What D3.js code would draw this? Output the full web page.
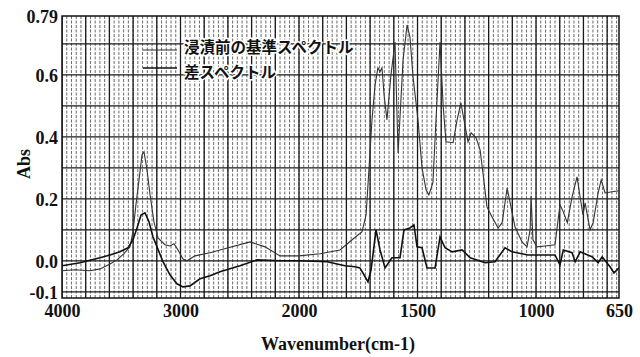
<!DOCTYPE html>
<html>
<head>
<meta charset="utf-8">
<script src="https://cdn.jsdelivr.net/npm/d3@7/dist/d3.min.js"></script>
<style>
  body { margin: 0; background: #fff; }
  svg { display: block; }
  .num { font-family: "Liberation Serif", "DejaVu Serif", serif; font-weight: bold; font-size: 18px; fill: #111; }
  .jp { font-family: "Noto Sans CJK JP", sans-serif; font-weight: bold; font-size: 15.5px; fill: #111; }
</style>
</head>
<body>
<svg id="chart" width="640" height="357"></svg>
<script>
// reference spectrum before immersion (wavenumber, Abs)
var refWavenumber = [4000, 3890, 3764, 3679, 3595, 3536, 3477, 3426, 3401, 3376, 3350, 3325, 3308, 3283, 3257, 3224, 3190, 3131, 3089, 3055, 3021, 2979, 2945, 2878, 2751, 2667, 2413, 2287, 2160, 2000, 1911, 1827, 1776, 1734, 1717, 1705, 1692, 1679, 1667, 1658, 1650, 1641, 1629, 1612, 1595, 1582, 1561, 1544, 1532, 1519, 1498, 1481, 1464, 1452, 1435, 1422, 1405, 1392, 1380, 1350, 1333, 1317, 1304, 1287, 1274, 1253, 1236, 1224, 1207, 1186, 1160, 1143, 1122, 1110, 1089, 1059, 1038, 1025, 1021, 1013, 996, 962, 920, 899, 885, 868, 848, 827, 814, 802, 793, 772, 759, 738, 725, 709, 679, 650];
var refAbs = [-0.032, -0.029, -0.032, -0.026, -0.010, 0.003, 0.023, 0.045, 0.094, 0.181, 0.261, 0.342, 0.352, 0.294, 0.213, 0.126, 0.074, 0.052, 0.048, 0.055, 0.035, 0.006, 0.0, 0.016, 0.026, 0.035, 0.061, 0.045, 0.016, 0.016, 0.023, 0.035, 0.068, 0.094, 0.148, 0.294, 0.455, 0.568, 0.623, 0.610, 0.623, 0.535, 0.455, 0.600, 0.706, 0.348, 0.648, 0.761, 0.723, 0.594, 0.455, 0.300, 0.229, 0.213, 0.252, 0.455, 0.706, 0.503, 0.384, 0.381, 0.455, 0.510, 0.455, 0.384, 0.413, 0.397, 0.358, 0.284, 0.174, 0.142, 0.106, 0.123, 0.235, 0.190, 0.110, 0.061, 0.045, 0.100, 0.210, 0.068, 0.045, 0.048, 0.052, 0.181, 0.158, 0.123, 0.206, 0.271, 0.206, 0.148, 0.187, 0.100, 0.123, 0.219, 0.261, 0.219, 0.223, 0.226];

// difference spectrum
var diffWavenumber = [4000, 3848, 3679, 3595, 3511, 3443, 3401, 3367, 3333, 3300, 3266, 3232, 3198, 3148, 3089, 3030, 2979, 2920, 2835, 2751, 2667, 2498, 2354, 2160, 2000, 1882, 1806, 1764, 1743, 1726, 1709, 1696, 1675, 1658, 1637, 1608, 1574, 1557, 1532, 1515, 1502, 1481, 1460, 1426, 1405, 1384, 1354, 1312, 1278, 1215, 1173, 1131, 1101, 1034, 920, 899, 885, 848, 835, 814, 764, 738, 721, 688, 671, 650];
var diffAbs = [-0.016, -0.006, 0.010, 0.019, 0.029, 0.042, 0.068, 0.106, 0.148, 0.155, 0.126, 0.077, 0.045, -0.003, -0.045, -0.074, -0.084, -0.081, -0.058, -0.048, -0.035, -0.016, 0.003, 0.0, 0.0, -0.003, -0.016, -0.019, -0.023, -0.045, -0.068, -0.029, 0.100, 0.035, -0.023, 0.010, 0.010, 0.100, 0.106, 0.116, 0.045, 0.042, -0.023, -0.023, 0.077, 0.042, 0.029, 0.035, 0.010, -0.006, -0.003, 0.042, 0.029, 0.019, 0.019, -0.013, 0.035, 0.026, -0.003, 0.029, 0.013, -0.006, 0.013, -0.019, -0.039, -0.023];

var xTicks = [4000, 3000, 2000, 1500, 1000, 650];
var yTicks = [0.79, 0.6, 0.4, 0.2, 0.0, -0.1];
var yTickLabels = ["0.79", "0.6", "0.4", "0.2", "0.0", "-0.1"];
var legendNames = ["浸漬前の基準スペクトル", "差スペクトル"];

var svg = d3.select("#chart");
var L = 62, R = 619, T = 16, B = 298;

// wavenumber axis changes scale at 2000 cm-1
var x = d3.scaleLinear().domain([4000, 2000, 650]).range([L, 299, R]);
var y = d3.scaleLinear().domain([-0.12, 0.79]).range([B, T]);

svg.append("defs").append("clipPath").attr("id", "plot")
  .append("rect").attr("x", L).attr("y", T).attr("width", R - L).attr("height", B - T);

var grid = svg.append("g").attr("clip-path", "url(#plot)");

// minor vertical lines (dense, like chart paper)
var minorX = d3.range(4000, 2000, -40).concat(d3.range(2000, 649, -20));
grid.selectAll(".minx").data(minorX).enter().append("line")
  .attr("x1", d => x(d)).attr("x2", d => x(d)).attr("y1", T).attr("y2", B)
  .attr("stroke", "#6a6a6a").attr("stroke-width", 1).attr("stroke-dasharray", "3,1.5");

// major vertical lines
var majorX = d3.range(4000, 2000, -200).concat(d3.range(2000, 649, -100));
grid.selectAll(".majx").data(majorX).enter().append("line")
  .attr("x1", d => x(d)).attr("x2", d => x(d)).attr("y1", T).attr("y2", B)
  .attr("stroke", "#1a1a1a").attr("stroke-width", 1.3);

// horizontal lines every 0.1
var majorY = d3.range(-0.1, 0.75, 0.1);
grid.selectAll(".majy").data(majorY).enter().append("line")
  .attr("x1", L).attr("x2", R).attr("y1", d => y(d)).attr("y2", d => y(d))
  .attr("stroke", "#1a1a1a").attr("stroke-width", 1.3);

svg.append("rect").attr("x", L).attr("y", T).attr("width", R - L).attr("height", B - T)
  .attr("fill", "none").attr("stroke", "#111").attr("stroke-width", 1.5);

// axes
var yAxis = svg.append("g").attr("transform", "translate(" + L + ",0)")
  .call(d3.axisLeft(y).tickValues(yTicks).tickSize(0).tickPadding(4)
    .tickFormat((d, i) => yTickLabels[i]));
yAxis.select(".domain").remove();
yAxis.selectAll("text").attr("class", "num").attr("dy", "0.35em");

var xAxis = svg.append("g").attr("transform", "translate(0," + B + ")")
  .call(d3.axisBottom(x).tickValues(xTicks).tickSize(0).tickPadding(6)
    .tickFormat(d3.format("d")));
xAxis.select(".domain").remove();
xAxis.selectAll("text").attr("class", "num");

svg.append("text").attr("class", "num")
  .attr("transform", "translate(30,164) rotate(-90)")
  .attr("text-anchor", "middle").text("Abs");

svg.append("text").attr("class", "num")
  .attr("x", 338).attr("y", 350).attr("text-anchor", "middle")
  .text("Wavenumber(cm-1)");

// spectra
var line = d3.line().x(d => x(d[0])).y(d => y(d[1]));
var refData = d3.zip(refWavenumber, refAbs);
var diffData = d3.zip(diffWavenumber, diffAbs);

var lines = svg.append("g").attr("clip-path", "url(#plot)");
lines.append("path").datum(refData).attr("d", line)
  .attr("fill", "none").attr("stroke", "#333").attr("stroke-width", 1.1);
lines.append("path").datum(diffData).attr("d", line)
  .attr("fill", "none").attr("stroke", "#111").attr("stroke-width", 1.6);

// legend
var leg = svg.append("g");
leg.selectAll("line").data(legendNames).enter().append("line")
  .attr("x1", 143).attr("x2", 177)
  .attr("y1", (d, i) => 50 + i * 18).attr("y2", (d, i) => 50 + i * 18)
  .attr("stroke", (d, i) => i ? "#111" : "#333")
  .attr("stroke-width", (d, i) => i ? 1.6 : 1.1);
leg.selectAll("text").data(legendNames).enter().append("text")
  .attr("class", "jp").attr("x", 184).attr("y", (d, i) => 47 + i * 25)
  .attr("dy", "0.36em")
  .attr("stroke", "#fff").attr("stroke-width", 3).attr("paint-order", "stroke")
  .text(d => d);
</script>
</body>
</html>
